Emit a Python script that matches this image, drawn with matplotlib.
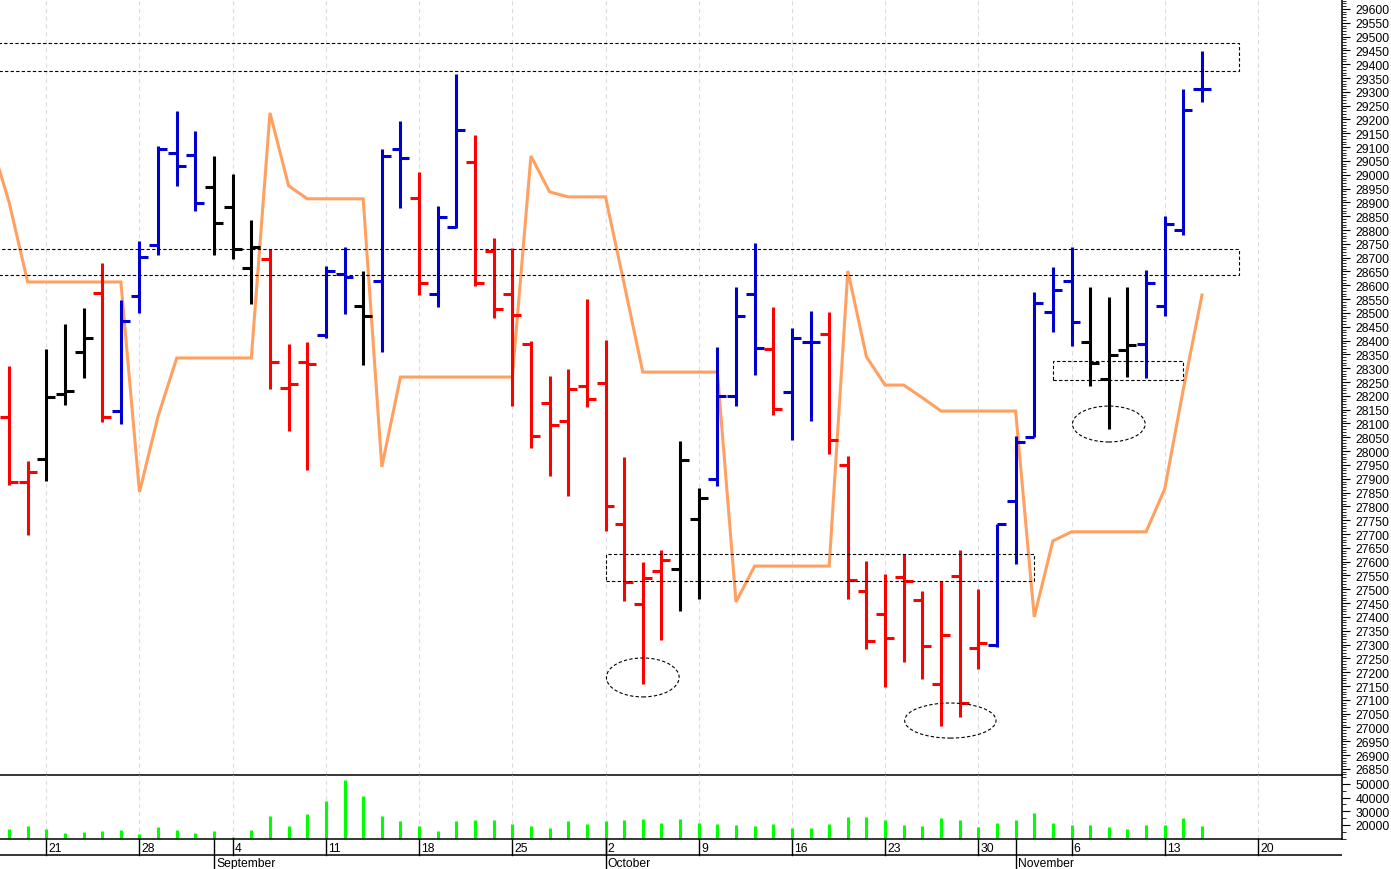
import numpy as np
import pandas as pd
import matplotlib
matplotlib.use("Agg")
import matplotlib.pyplot as plt
from matplotlib.patches import Rectangle, Ellipse
from matplotlib.ticker import MultipleLocator, FixedLocator

plt.rcParams['font.family'] = ['Liberation Sans', 'DejaVu Sans']

# trading days, 17 Aug 2017 onwards (weekdays); last few are empty axis room
days = pd.bdate_range('2017-08-17', periods=72)

opens = [28124, 27889, 27972, 28207, 28359, 28572, 28145, 28562, 28746, 29079, 29072,
         28956, 28884, 28663, 28695, 28229, 28323, 28420, 28641, 28525, 28616, 29093,
         28916, 28569, 28811, 29046, 28724, 28569, 28388, 28174, 28109, 28236,
         28247, 27737, 27447, 27566, 27574, 27755, 27899, 28200, 28569, 28370, 28214,
         28395, 28424, 27950, 27494, 27411, 27545, 27462, 27157, 27548, 27288, 27299,
         27820, 28051, 28504, 28616, 28395, 28261, 28366, 28388, 28525, 28800, 29311]
highs = [28308, 27964, 28370, 28460, 28518, 28681, 28547, 28761, 29104, 29231, 29159,
         29068, 29003, 28837, 28732, 28388, 28395, 28670, 28739, 28652, 29093, 29195,
         29010, 28887, 29365, 29144, 28771, 28735, 28399, 28272, 28297, 28551,
         28402, 27979, 27599, 27642, 28037, 27867, 28377, 28594, 28753, 28522, 28446,
         28507, 28504, 27983, 27603, 27556, 27628, 27494, 27530, 27642, 27501, 27737,
         28055, 28576, 28666, 28739, 28594, 28558, 28594, 28656, 28851, 29311, 29448]
lows = [27878, 27697, 27892, 28167, 28265, 28106, 28098, 28500, 28710, 28960, 28869,
        28710, 28695, 28533, 28225, 28073, 27932, 28410, 28496, 28312, 28359, 28880,
        28565, 28522, 28808, 28598, 28482, 28164, 28012, 27910, 27838, 28160,
        27711, 27458, 27158, 27317, 27422, 27465, 27874, 28164, 28276, 28131, 28041,
        28109, 27990, 27465, 27284, 27147, 27237, 27176, 27006, 27038, 27212, 27291,
        27592, 28051, 28431, 28381, 28236, 28080, 28268, 28265, 28489, 28782, 29264]
closes = [27889, 27925, 28196, 28218, 28410, 28124, 28471, 28703, 29093, 29032, 28898,
          28826, 28732, 28739, 28323, 28243, 28315, 28652, 28630, 28489, 29068, 29061,
          28609, 28847, 29162, 28609, 28514, 28493, 28055, 28095, 28225, 28189,
          27802, 27527, 27541, 27606, 27968, 27831, 28200, 28489, 28373, 28153, 28410,
          28395, 28041, 27534, 27313, 27324, 27530, 27295, 27335, 27089, 27306, 27737,
          28033, 28536, 28583, 28468, 28319, 28348, 28384, 28609, 28822, 29235, 29311]
# r = red, b = blue, k = black bar
bar_colors = list("rrkkkrbbbbb" "kkkrrrbbkbbrbbrrrrrrr" "rrrrkkbbbrbbrrrrrrrrrb" "bbbbkkkbbbb")
volumes = [17100, 19500, 17100, 14500, 15200, 15900, 16200, 13300, 18600, 16600, 14500,
           15900, 11100, 16600, 26700, 19500, 28200, 37500, 53100, 41300, 26700, 22600,
           19300, 15900, 22600, 23400, 23400, 20500, 19500, 18100, 22600, 20500,
           22900, 23400, 24100, 21200, 24100, 21200, 20500, 19800, 19300, 20500, 17800,
           18100, 20500, 26000, 25500, 23400, 20200, 19300, 24800, 23400, 18600, 21200,
           23400, 29100, 21200, 19800, 19800, 18600, 17400, 19800, 19800, 24800, 19500]
# orange line, starts one day earlier (16 Aug)
trend = [29126, 28902, 28612, 28612, 28612, 28612, 28612, 28612, 27852, 28127, 28337,
         28337, 28337, 28337, 28337, 29224, 28960, 28913, 28913, 28913, 28913, 27943,
         28268, 28268, 28268, 28268, 28268, 28268, 28268, 29068, 28938, 28920, 28920,
         28920, 28605, 28286, 28286, 28286, 28286, 28286, 27454, 27584, 27584, 27584,
         27584, 27584, 28652, 28341, 28239, 28239, 28193, 28145, 28145, 28145, 28145,
         28145, 27400, 27675, 27708, 27708, 27708, 27708, 27708, 27863, 28225, 28565]

# dashed zones (x0, x1, low, high) and circled lows (x, price, w, h)
zones = [(-3, 66, 29376, 29477), (-3, 66, 28637, 28732),
         (32, 55, 27530, 27628), (56, 63, 28258, 28327)]
circles = [(34, 27181, 3.9, 141), (50.5, 27025, 4.9, 127), (59, 28098, 3.9, 130)]

cmap = {'r': '#ff0000', 'b': '#0000d0', 'k': '#000000'}
x = np.arange(len(closes))
xt = np.arange(-1, len(trend) - 1)
mondays = [i for i, d in enumerate(days) if d.weekday() == 0]
month_starts = [i for i in range(1, len(days)) if days[i].month != days[i - 1].month]

fig = plt.figure(figsize=(13.91, 8.70), dpi=100)
W = 1342 / 1391
ax = fig.add_axes([0, 94 / 870, W, 776 / 870])
axv = fig.add_axes([0, 30 / 870, W, 64 / 870], sharex=ax)
axd = fig.add_axes([0, 0, W, 30 / 870], sharex=ax)
for a in (axv, axd):
    a.patch.set_alpha(0)

xlim = (-0.483, 71.51)
lw = 2.2

# price bars
cols = [cmap[c] for c in bar_colors]
ax.vlines(x, lows, highs, colors=cols, lw=lw, zorder=3)
ax.hlines(opens, x - 0.48, x, colors=cols, lw=lw, zorder=3)
ax.hlines(closes, x, x + 0.48, colors=cols, lw=lw, zorder=3)
ax.plot(xt, trend, color='#ffa060', lw=lw, zorder=2, solid_joinstyle='miter')

for x0, x1, lo, hi in zones:
    ax.add_patch(Rectangle((x0, lo), x1 - x0, hi - lo, fill=False, ec='black',
                           lw=0.8, ls=(0, (3, 2)), zorder=4))
for cx, cy, w, h in circles:
    ax.add_patch(Ellipse((cx, cy), w, h, fill=False, ec='black',
                         lw=0.8, ls=(0, (3, 2)), zorder=4))

ax.set_xlim(*xlim)
ax.set_ylim(26828, 29636)

# volume
vbot = 9756
axv.vlines(x, vbot, volumes, colors='#00ff00', lw=lw)
axv.set_ylim(vbot, 56585)

for a in (ax, axv):
    for m in mondays:
        a.axvline(m, color='#dcdce4', lw=0.8, ls=(0, (4, 3)), zorder=0)
    a.spines['top'].set_visible(False)
    a.spines['left'].set_visible(False)
    a.spines['right'].set_linewidth(1.1)
    a.spines['bottom'].set_linewidth(1.1)
    a.spines['bottom'].set_color('black')
    a.spines['bottom'].set_zorder(6)
    a.yaxis.tick_right()
    a.tick_params(axis='x', which='both', bottom=False, labelbottom=False)
    a.tick_params(axis='y', which='major', length=6, width=0.8, pad=4, labelsize=8.7)
    a.tick_params(axis='y', which='minor', length=3, width=0.6)

ax.yaxis.set_major_locator(MultipleLocator(50))
ax.yaxis.set_minor_locator(MultipleLocator(10))
axv.yaxis.set_major_locator(FixedLocator([20000, 30000, 40000, 50000]))
axv.yaxis.set_minor_locator(FixedLocator([10000, 15000, 25000, 35000, 45000, 55000]))

# date strip
axd.set_ylim(0, 30)
axd.axis('off')
axd.axhline(14, color='black', lw=1.1)
for m in mondays:
    axd.plot([m, m], [14, 30], color='black', lw=1.0)
    axd.text(m + 0.12, 21, str(days[m].day), fontsize=8.7, va='center', ha='left')
for m in month_starts:
    axd.plot([m, m], [0, 30], color='black', lw=1.0)
    axd.text(m + 0.12, 5.5, days[m].strftime('%B'), fontsize=8.7, va='center', ha='left')
axd.set_xlim(*xlim)

fig.savefig('out.png', dpi=100)
